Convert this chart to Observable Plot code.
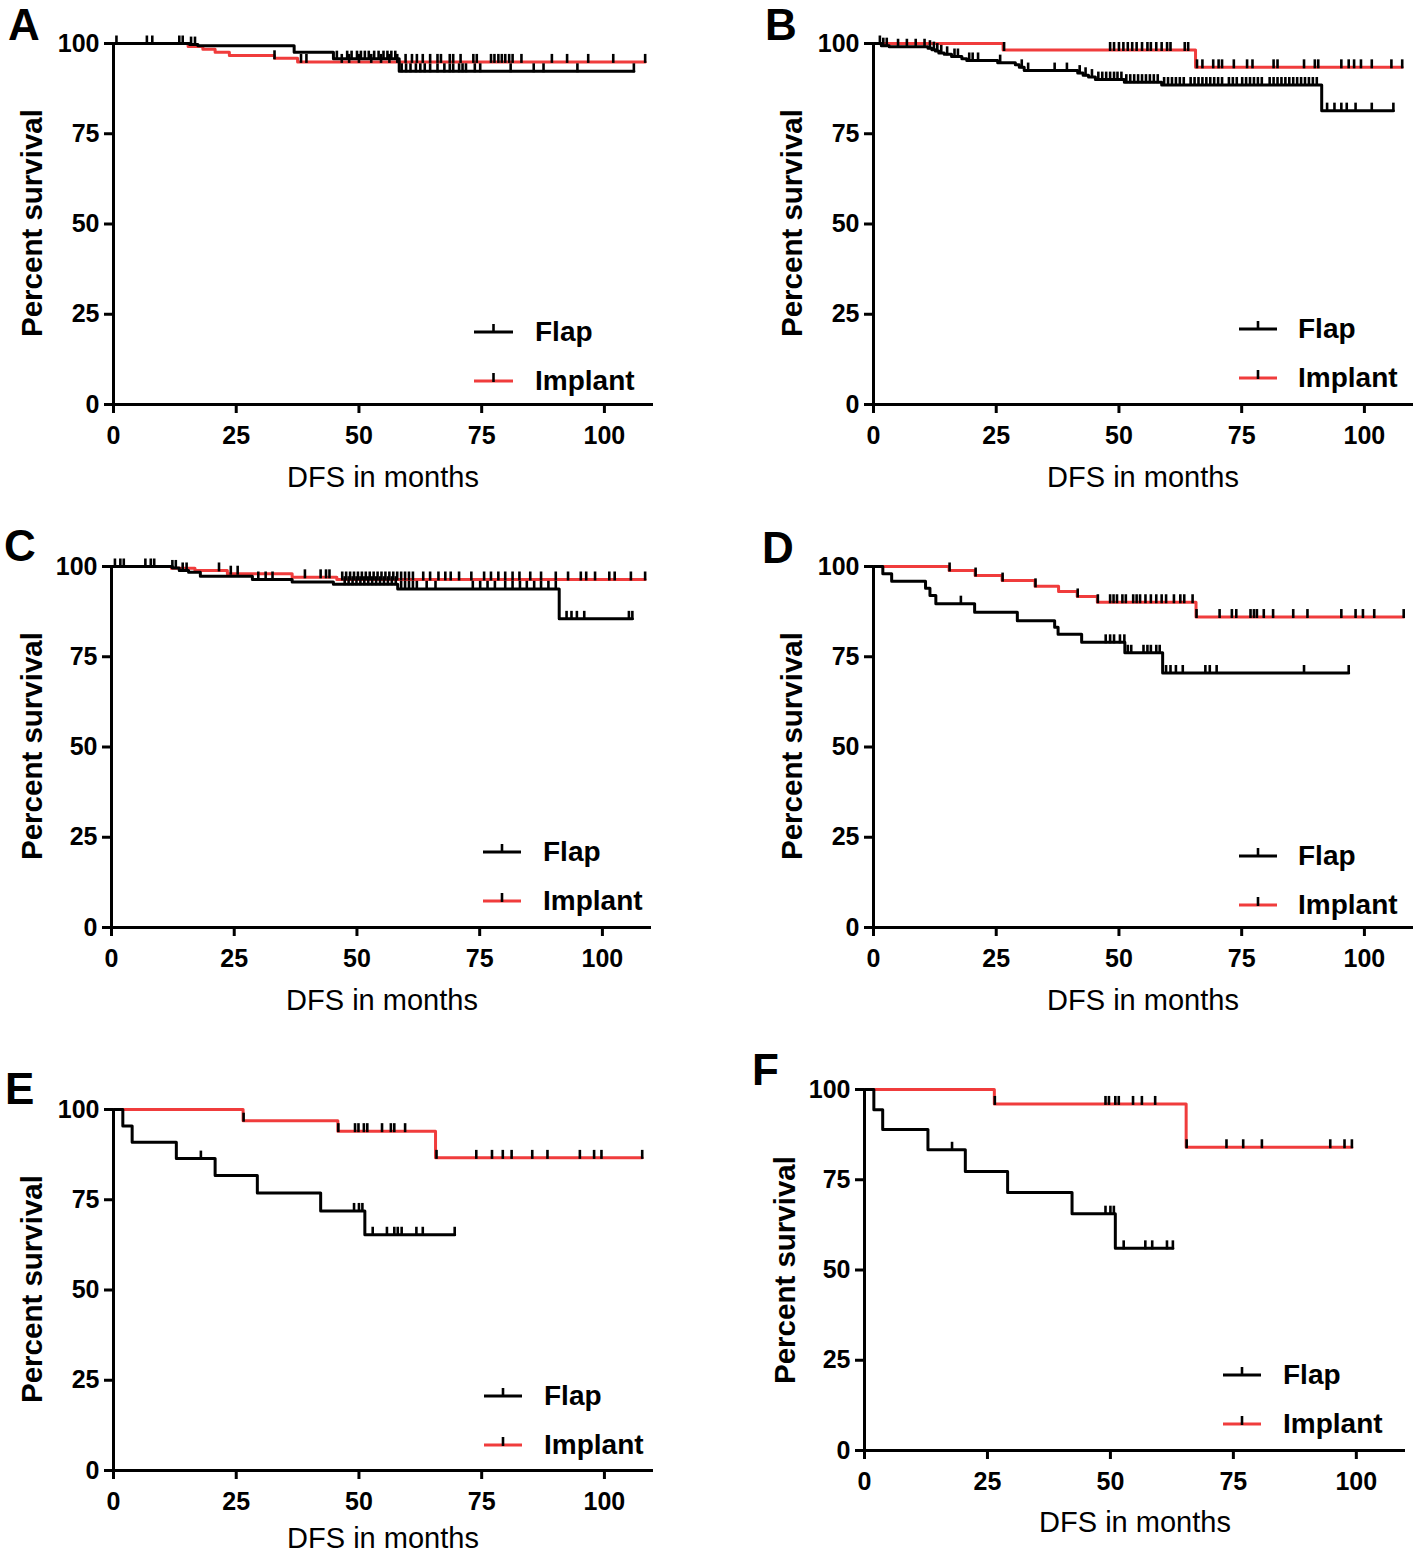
<!DOCTYPE html>
<html>
<head>
<meta charset="utf-8">
<script src="https://cdn.jsdelivr.net/npm/d3@7"></script>
<script src="https://cdn.jsdelivr.net/npm/@observablehq/plot@0.6"></script>
<style>
  body { margin: 0; background: #fff; }
  #page { position: relative; width: 1418px; height: 1555px; background: #fff; overflow: hidden; }
  .panel { position: absolute; }
  .panel svg { max-width: none !important; }
  #overlay { position: absolute; left: 0; top: 0; pointer-events: none; }
</style>
</head>
<body>
<div id="page"></div>
<script>
const FONT = '"Liberation Sans", Arial, Helvetica, sans-serif';
const RED = "#f03c3c";

// ---------- tick labels, titles, names ----------
const xTicks = [0, 25, 50, 75, 100];
const yTicks = [0, 25, 50, 75, 100];
const xDomain = [0, 110];
const yDomain = [0, 100];
const panelLetters = ["A", "B", "C", "D", "E", "F"];
const seriesNames = ["Flap", "Implant"];
const xTitle = "DFS in months";
const yTitle = "Percent survival";

// ---------- data: step curves [month, % survival] and censored times ----------
// Panel A
const flapA = [[0,100],[15.5,99.7],[17.2,99.4],[36.8,97.6],[44.8,95.8],[58.2,92.3],[106.0,92.3]];
const implantA = [[0,100],[15.2,99.2],[18.2,98.4],[20.7,97.6],[23.6,96.7],[32.8,95.9],[37.5,94.9],[108.3,94.9]];
const flapCensA = [0.6,6.8,7.9,13.4,14.1,15.8,16.6,45.5,47.6,48.5,49.6,50.4,51.2,52.0,53.1,54.0,55.0,55.8,56.6,57.4,58.7,59.6,60.5,61.6,62.5,63.4,64.5,66.0,67.4,68.5,69.2,70.4,71.1,71.8,73.6,74.7,80.9,85.6,87.6,94.5,106.0];
const implantCensA = [32.8,38.2,39.3,46.5,48.0,50.0,52.5,54.5,56.2,57.8,59.5,60.8,61.8,63.0,64.5,66.0,66.7,68.5,69.2,70.7,73.3,74.0,76.9,77.6,78.4,79.1,79.8,80.6,81.3,83.1,89.3,92.4,96.7,101.8,108.3];

// Panel B
const flapB = [[0,100],[1.6,99.4],[3.2,99.1],[11.1,98.7],[11.9,98.3],[12.6,97.9],[13.3,97.4],[14.4,97.0],[15.9,96.4],[18.0,95.8],[19.0,95.3],[25.3,94.7],[28.9,94.1],[29.7,93.4],[30.7,92.5],[41.6,91.8],[42.7,91.2],[43.8,90.7],[45.2,90.0],[51.1,89.3],[58.7,88.5],[91.3,81.4],[105.9,81.4]];
const implantB = [[0,100],[26.4,98.2],[65.6,93.4],[107.7,93.4]];
const flapCensB = [1.3,2.0,2.7,5.0,6.8,8.6,10.4,11.5,12.3,13.0,13.8,15.0,16.5,17.2,19.5,20.2,21.3,25.8,30.2,31.5,36.9,39.4,42.0,43.2,44.5,45.8,46.6,47.4,48.2,49.0,49.7,50.5,51.5,52.3,53.1,53.9,54.7,55.5,56.3,57.1,57.9,59.2,60.0,60.8,61.6,62.4,63.2,64.6,65.4,66.2,67.0,67.8,68.6,69.4,70.2,71.0,72.4,73.2,74.0,75.1,75.9,76.7,77.5,78.3,79.1,80.7,81.5,82.3,83.1,83.9,84.7,85.5,86.3,87.1,87.9,88.7,89.5,90.3,92.4,93.9,95.3,96.4,98.2,101.5,105.9];
const implantCensB = [26.6,48.2,49.0,50.0,50.9,51.8,52.7,53.6,54.7,55.8,56.5,57.6,58.7,59.8,60.5,63.4,64.1,65.9,67.0,69.2,70.3,71.0,73.4,76.1,77.2,81.5,82.3,87.7,89.9,90.6,95.3,96.8,97.9,99.3,101.5,105.5,107.7];

// Panel C
const flapC = [[0,100],[12.4,99.6],[13.8,98.9],[15.7,98.4],[18.1,97.3],[28.7,96.4],[36.8,95.7],[45.2,95.1],[58.3,93.8],[91.2,85.5],[106.1,85.5]];
const implantC = [[0,100],[12.2,99.5],[17.0,98.9],[23.6,98.0],[36.8,97.0],[45.9,96.4],[108.7,96.4]];
const flapCensC = [0.7,1.8,2.5,6.9,8.0,8.7,12.4,13.1,14.5,15.3,29.9,31.4,32.8,47.5,48.3,49.1,49.9,50.7,51.5,52.3,53.1,53.9,54.7,55.5,56.3,57.1,57.9,59.0,59.8,60.6,61.4,62.2,64.2,66.0,73.6,75.1,76.6,78.1,80.2,81.7,83.2,84.6,86.1,87.5,89.0,90.5,92.7,93.7,94.8,96.3,105.4,106.1];
const implantCensC = [21.9,24.3,25.7,39.4,42.6,43.7,44.4,47.0,47.8,48.6,49.4,50.2,51.0,51.8,52.6,53.4,54.2,55.0,55.8,56.6,57.4,58.2,59.0,59.8,60.6,61.4,63.5,64.9,66.6,68.0,69.1,70.8,73.3,75.9,77.3,78.8,80.2,81.7,83.1,85.3,87.5,90.5,93.0,95.6,96.7,98.5,101.4,102.5,105.8,108.7];

// Panel D
const flapD = [[0,100],[1.9,98.0],[3.7,95.9],[10.6,94.0],[11.5,92.0],[12.7,89.7],[20.6,87.3],[29.3,85.0],[36.9,83.2],[37.6,81.2],[42.4,79.0],[51.2,76.1],[58.9,70.5],[96.8,70.5]];
const implantD = [[0,100],[15.4,98.9],[20.7,97.5],[26.2,96.1],[32.9,94.5],[37.7,93.1],[41.5,91.7],[45.6,90.1],[65.7,86.0],[108.0,86.0]];
const flapCensD = [17.8,47.3,48.2,49.0,50.2,51.1,51.8,52.5,55.0,55.8,56.5,57.6,58.3,59.6,60.5,61.6,63.0,67.6,68.5,69.9,87.7,96.8];
const implantCensD = [15.5,20.8,26.3,33.0,41.6,45.7,48.2,48.9,49.6,50.7,51.4,52.9,53.6,54.3,55.4,56.5,57.6,58.7,59.6,61.2,62.5,63.3,65.0,65.8,70.5,73.0,73.9,76.8,77.5,78.1,79.5,81.4,85.5,88.4,95.3,98.2,99.7,102.0,108.0];

// Panel E
const flapE = [[0,100],[1.9,95.4],[3.8,90.9],[12.8,86.4],[20.7,81.7],[29.3,76.9],[42.2,71.9],[51.2,65.3],[69.5,65.3]];
const implantE = [[0,100],[26.4,96.9],[45.7,94.0],[65.6,86.6],[107.7,86.6]];
const flapCensE = [17.8,49.0,50.0,50.7,52.8,55.7,57.2,57.9,58.7,61.7,63.0,69.5];
const implantCensE = [26.5,45.8,49.2,49.9,51.0,51.7,54.7,56.5,57.2,59.4,65.8,73.9,77.1,79.3,81.1,85.3,88.4,95.0,97.9,99.4,107.7];

// Panel F
const flapF = [[0,100],[1.9,94.4],[3.7,88.9],[12.9,83.3],[20.5,77.3],[29.1,71.5],[42.2,65.6],[51.0,56.0],[62.7,56.0]];
const implantF = [[0,100],[26.4,96.0],[65.4,84.0],[99.1,84.0]];
const flapCensF = [17.8,49.0,50.0,50.7,52.7,57.1,58.5,61.5,62.7];
const implantCensF = [26.5,49.0,49.7,51.0,51.7,54.6,56.4,59.1,65.5,73.6,77.0,80.8,94.7,97.6,99.1];

// ---------- layout (page pixel positions) ----------
const layout = [
  {x0:113, y100:43,   kx:4.91, ky:3.61, letter:[8,40],    yt:[42,223],   xt:[383,487],   lg:{x1:474,x2:513,y:332,tx:535}},
  {x0:873, y100:43,   kx:4.91, ky:3.61, letter:[765,40],  yt:[802,223],  xt:[1143,487],  lg:{x1:1239,x2:1277,y:329,tx:1298}},
  {x0:111, y100:566,  kx:4.91, ky:3.61, letter:[4,561],   yt:[42,746],   xt:[382,1010],  lg:{x1:483,x2:521,y:852,tx:543}},
  {x0:873, y100:566,  kx:4.91, ky:3.61, letter:[762,563], yt:[802,746],  xt:[1143,1010], lg:{x1:1239,x2:1277,y:856,tx:1298}},
  {x0:113, y100:1109, kx:4.91, ky:3.61, letter:[5,1104],  yt:[42,1289],  xt:[383,1548],  lg:{x1:484,x2:522,y:1396,tx:544}},
  {x0:864, y100:1089, kx:4.92, ky:3.61, letter:[752,1085],yt:[795,1270], xt:[1135,1532], lg:{x1:1223,x2:1261,y:1375,tx:1283}}
];
const series = [
  [flapA, implantA, flapCensA, implantCensA],
  [flapB, implantB, flapCensB, implantCensB],
  [flapC, implantC, flapCensC, implantCensC],
  [flapD, implantD, flapCensD, implantCensD],
  [flapE, implantE, flapCensE, implantCensE],
  [flapF, implantF, flapCensF, implantCensF]
];

function survAt(steps, t) {
  let s = steps[0][1];
  for (const [ti, si] of steps) if (ti <= t) s = si;
  return s;
}

// vertical censor tick drawn upward from the curve
const censorTick = {
  draw(context) {
    context.moveTo(0, 1);
    context.lineTo(0, -8);
  }
};

const ML = 80, MR = 10, MT = 20, MB = 60;
const page = document.getElementById("page");

series.forEach(([flap, implant, flapCens, implantCens], i) => {
  const L = layout[i];
  const flapData = flap.map(([t, s]) => ({t, s}));
  const implantData = implant.map(([t, s]) => ({t, s}));
  const cens = [
    ...implantCens.map(t => ({t, s: survAt(implant, t)})),
    ...flapCens.map(t => ({t, s: survAt(flap, t)}))
  ];
  const w = Math.round((xDomain[1] - xDomain[0]) * L.kx);
  const h = Math.round(100 * L.ky);
  const chart = Plot.plot({
    width: ML + w + MR,
    height: MT + h + MB,
    marginLeft: ML, marginRight: MR, marginTop: MT, marginBottom: MB,
    style: {fontFamily: FONT, fontWeight: "bold", background: "transparent", overflow: "visible", color: "black", maxWidth: "none"},
    x: {domain: xDomain},
    y: {domain: yDomain},
    marks: [
      Plot.line(implantData, {x: "t", y: "s", curve: "step-after", stroke: RED, strokeWidth: 3}),
      Plot.line(flapData, {x: "t", y: "s", curve: "step-after", stroke: "black", strokeWidth: 3}),
      Plot.dot(cens, {x: "t", y: "s", symbol: censorTick, stroke: "black", strokeWidth: 2.6, fill: "none"}),
      Plot.ruleY([0], {stroke: "black", strokeWidth: 3}),
      Plot.ruleX([0], {stroke: "black", strokeWidth: 3}),
      Plot.axisX({ticks: xTicks, tickSize: 9, tickPadding: 13, fontSize: 25, strokeWidth: 3, label: null, tickFormat: d => String(d)}),
      Plot.axisY({ticks: yTicks, tickSize: 9, tickPadding: 5, fontSize: 25, strokeWidth: 3, label: null, tickFormat: d => String(d)})
    ]
  });
  const div = document.createElement("div");
  div.className = "panel";
  div.style.left = (L.x0 - ML) + "px";
  div.style.top = (L.y100 - MT) + "px";
  div.style.width = (ML + w + MR) + "px";
  div.appendChild(chart);
  page.appendChild(div);
});

// ---------- overlay: panel letters, axis titles, legends ----------
const svg = d3.select(page).append("svg")
  .attr("id", "overlay")
  .attr("width", 1418).attr("height", 1555)
  .style("font-family", FONT);

layout.forEach((L, i) => {
  svg.append("text")
    .attr("x", L.letter[0]).attr("y", L.letter[1])
    .attr("font-size", 44).attr("font-weight", "bold")
    .text(panelLetters[i]);
  svg.append("text")
    .attr("transform", `translate(${L.yt[0]},${L.yt[1]}) rotate(-90)`)
    .attr("text-anchor", "middle")
    .attr("font-size", 29.5).attr("font-weight", "bold")
    .text(yTitle);
  svg.append("text")
    .attr("x", L.xt[0]).attr("y", L.xt[1])
    .attr("text-anchor", "middle")
    .attr("font-size", 29)
    .text(xTitle);
  seriesNames.forEach((name, j) => {
    const y = L.lg.y + j * 49;
    svg.append("line")
      .attr("x1", L.lg.x1).attr("x2", L.lg.x2).attr("y1", y).attr("y2", y)
      .attr("stroke", j === 0 ? "black" : RED).attr("stroke-width", 3);
    const xm = (L.lg.x1 + L.lg.x2) / 2;
    svg.append("line")
      .attr("x1", xm).attr("x2", xm).attr("y1", y + 1).attr("y2", y - 8)
      .attr("stroke", "black").attr("stroke-width", 2.6);
    svg.append("text")
      .attr("x", L.lg.tx).attr("y", y + 9)
      .attr("font-size", 28).attr("font-weight", "bold")
      .text(name);
  });
});
</script>
</body>
</html>
